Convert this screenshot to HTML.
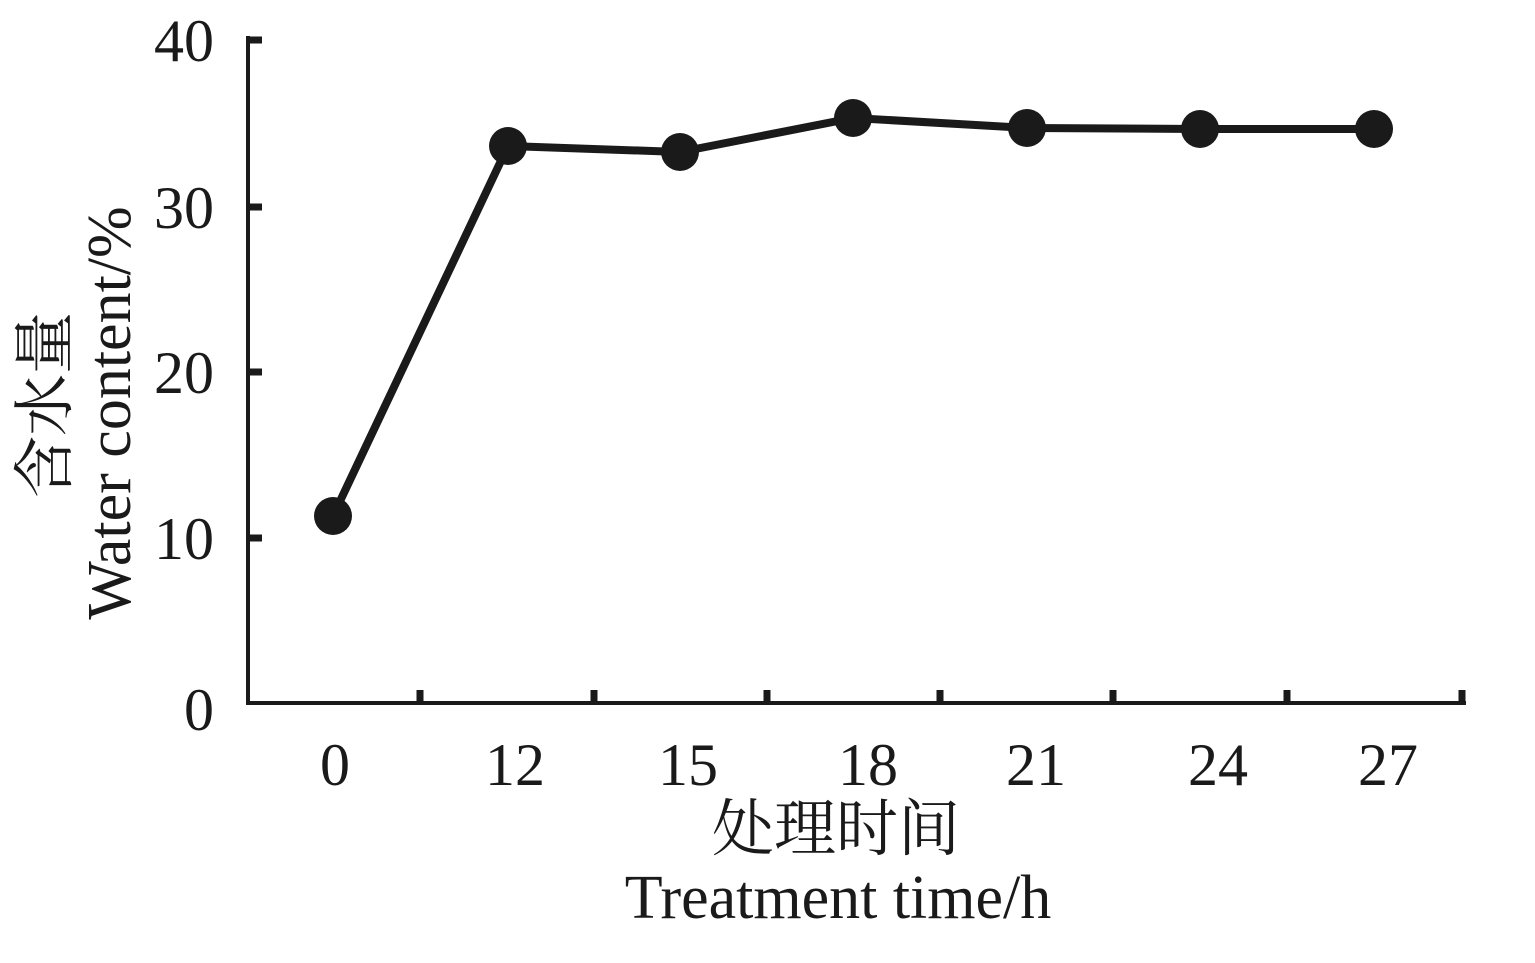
<!DOCTYPE html>
<html><head><meta charset="utf-8"><style>
html,body{margin:0;padding:0;background:#fff;}
</style></head><body>
<svg width="1535" height="963" viewBox="0 0 1535 963" xmlns="http://www.w3.org/2000/svg" style="display:block">
<g stroke="#1a1a1a" stroke-width="4" fill="none">
<line x1="248" y1="36" x2="248" y2="705"/>
<line x1="246" y1="703" x2="1466" y2="703"/>
</g>
<g stroke="#1a1a1a" stroke-width="7">
<line x1="248" y1="40" x2="262" y2="40"/>
<line x1="248" y1="207" x2="262" y2="207"/>
<line x1="248" y1="372" x2="262" y2="372"/>
<line x1="248" y1="538" x2="262" y2="538"/>
<line x1="420" y1="703" x2="420" y2="690"/>
<line x1="594" y1="703" x2="594" y2="690"/>
<line x1="767" y1="703" x2="767" y2="690"/>
<line x1="940" y1="703" x2="940" y2="690"/>
<line x1="1113" y1="703" x2="1113" y2="690"/>
<line x1="1287" y1="703" x2="1287" y2="690"/>
<line x1="1462" y1="703" x2="1462" y2="690"/>
</g>
<polyline points="333,516 508,146 680,152 853,118 1027,128 1200,129 1374,129" fill="none" stroke="#1a1a1a" stroke-width="8" stroke-linejoin="round"/>
<g fill="#1a1a1a">
<circle cx="333" cy="516" r="19"/><circle cx="508" cy="146" r="19"/><circle cx="680" cy="152" r="19"/><circle cx="853" cy="118" r="19"/><circle cx="1027" cy="128" r="19"/><circle cx="1200" cy="129" r="19"/><circle cx="1374" cy="129" r="19"/>
</g>
<g font-family="Liberation Serif, serif" font-size="60" fill="#1a1a1a" text-anchor="end">
<text x="214" y="61">40</text>
<text x="214" y="228">30</text>
<text x="214" y="393">20</text>
<text x="214" y="559">10</text>
<text x="214" y="730">0</text>
</g>
<g font-family="Liberation Serif, serif" font-size="60" fill="#1a1a1a" text-anchor="middle">
<text x="335" y="785">0</text>
<text x="515" y="785">12</text>
<text x="688" y="785">15</text>
<text x="868" y="785">18</text>
<text x="1036" y="785">21</text>
<text x="1218" y="785">24</text>
<text x="1388" y="785">27</text>
<text x="838" y="918" font-size="62">Treatment time/h</text>
<text x="836" y="850" font-size="62" font-family="Liberation Serif, 'Noto Serif CJK SC', serif">处理时间</text>
</g>
<g font-family="Liberation Serif, 'Noto Serif CJK SC', serif" font-size="62" fill="#1a1a1a" text-anchor="middle">
<text transform="translate(66,405) rotate(-90)">含水量</text>
<text transform="translate(130,413) rotate(-90)">Water content/%</text>
</g>
</svg>
</body></html>
